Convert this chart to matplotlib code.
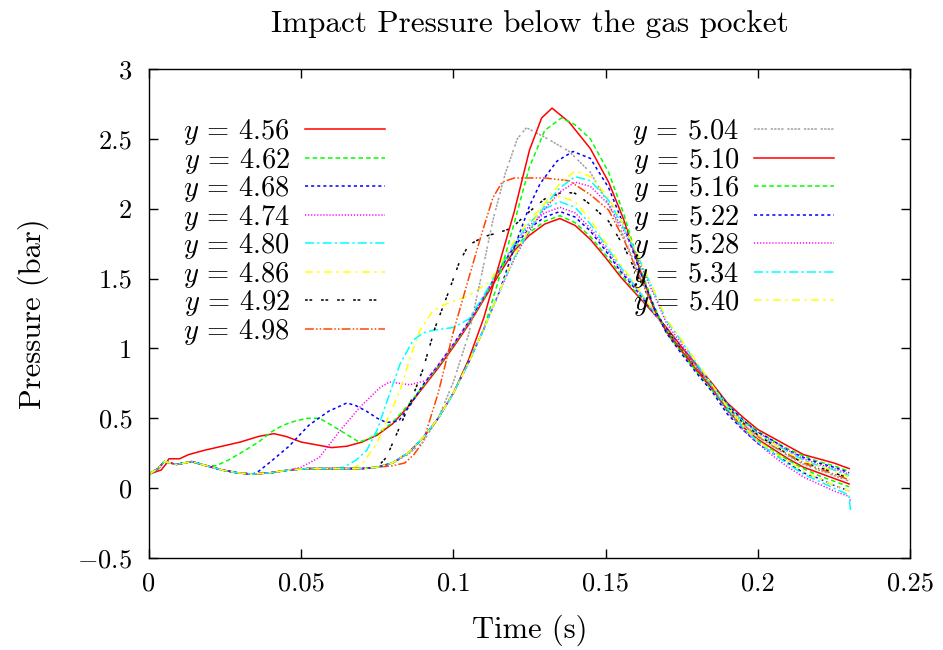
import matplotlib
matplotlib.use("Agg")
import matplotlib.pyplot as plt

plt.rcParams['font.family'] = ['cmr10', 'DejaVu Serif']
plt.rcParams['mathtext.fontset'] = 'cm'
plt.rcParams['axes.formatter.use_mathtext'] = True
plt.rcParams['axes.unicode_minus'] = False

# ---------------- data ----------------
labels = ["4.56", "4.62", "4.68", "4.74", "4.80", "4.86", "4.92", "4.98",
          "5.04", "5.10", "5.16", "5.22", "5.28", "5.34", "5.40"]

# common decay time grid
t_dec = [0.17, 0.175, 0.18, 0.185, 0.19, 0.195, 0.2, 0.205, 0.21, 0.215, 0.22, 0.225, 0.23]

t_456 = [0, 0.004, 0.0055, 0.0065, 0.01, 0.013, 0.018, 0.024, 0.03, 0.036, 0.041, 0.045, 0.05,
         0.055, 0.06, 0.065, 0.07, 0.075, 0.08, 0.085, 0.09, 0.095, 0.1, 0.105, 0.11, 0.115,
         0.12, 0.125, 0.13, 0.135, 0.14, 0.145, 0.15, 0.155, 0.16, 0.165]
p_456 = [0.10, 0.13, 0.17, 0.21, 0.21, 0.24, 0.27, 0.30, 0.33, 0.37, 0.39, 0.37, 0.33,
         0.31, 0.29, 0.30, 0.33, 0.38, 0.46, 0.58, 0.72, 0.86, 1.01, 1.17, 1.35, 1.53,
         1.70, 1.81, 1.89, 1.93, 1.88, 1.78, 1.65, 1.51, 1.39, 1.27]
d_456 = [1.15, 1.01, 0.88, 0.75, 0.61, 0.51, 0.42, 0.36, 0.30, 0.24, 0.21, 0.18, 0.14]

t_462 = [0, 0.003, 0.005, 0.009, 0.014, 0.019, 0.022, 0.026, 0.03, 0.036, 0.04, 0.044, 0.048,
         0.052, 0.056, 0.06, 0.063, 0.066, 0.069, 0.072, 0.075, 0.08, 0.085, 0.09, 0.095,
         0.1, 0.105, 0.11, 0.115, 0.12, 0.125, 0.13, 0.135, 0.14, 0.145, 0.15, 0.155, 0.16, 0.165]
p_462 = [0.10, 0.14, 0.19, 0.17, 0.19, 0.16, 0.16, 0.20, 0.25, 0.33, 0.40, 0.45, 0.48,
         0.50, 0.50, 0.45, 0.41, 0.37, 0.33, 0.35, 0.39, 0.47, 0.59, 0.73, 0.87,
         1.02, 1.18, 1.36, 1.55, 1.72, 1.83, 1.91, 1.95, 1.90, 1.80, 1.67, 1.53, 1.40, 1.28]
d_462 = [1.14, 1.00, 0.87, 0.74, 0.60, 0.49, 0.41, 0.34, 0.28, 0.23, 0.19, 0.16, 0.12]

t_468 = [0, 0.003, 0.005, 0.009, 0.014, 0.019, 0.024, 0.029, 0.034, 0.036, 0.04, 0.046, 0.0525,
         0.059, 0.065, 0.068, 0.0715, 0.075, 0.078, 0.082, 0.086, 0.09, 0.095, 0.1, 0.105,
         0.11, 0.115, 0.12, 0.125, 0.13, 0.135, 0.14, 0.145, 0.15, 0.155, 0.16, 0.165]
p_468 = [0.10, 0.14, 0.19, 0.17, 0.19, 0.16, 0.13, 0.11, 0.10, 0.12, 0.19, 0.30, 0.45,
         0.55, 0.61, 0.59, 0.55, 0.50, 0.47, 0.48, 0.60, 0.74, 0.88, 1.03, 1.19,
         1.37, 1.56, 1.73, 1.86, 1.94, 1.98, 1.94, 1.84, 1.70, 1.55, 1.42, 1.28]
d_468 = [1.14, 1.00, 0.86, 0.74, 0.60, 0.49, 0.40, 0.34, 0.27, 0.22, 0.18, 0.15, 0.11]

t_474 = [0, 0.003, 0.005, 0.009, 0.014, 0.019, 0.024, 0.029, 0.034, 0.04, 0.046, 0.05, 0.056,
         0.0627, 0.0693, 0.0759, 0.079, 0.0857, 0.091, 0.095, 0.1, 0.105, 0.11, 0.115, 0.12,
         0.125, 0.13, 0.135, 0.14, 0.145, 0.15, 0.155, 0.16, 0.165]
p_474 = [0.10, 0.14, 0.19, 0.17, 0.19, 0.16, 0.13, 0.11, 0.10, 0.11, 0.13, 0.15, 0.22,
         0.41, 0.58, 0.72, 0.76, 0.74, 0.77, 0.88, 1.03, 1.19, 1.37, 1.56, 1.74,
         1.88, 1.97, 2.01, 1.97, 1.86, 1.72, 1.56, 1.43, 1.28]
d_474 = [1.13, 1.00, 0.86, 0.73, 0.59, 0.48, 0.40, 0.33, 0.27, 0.21, 0.17, 0.14, 0.10]

t_480 = [0, 0.003, 0.005, 0.009, 0.014, 0.019, 0.024, 0.029, 0.034, 0.04, 0.046, 0.052, 0.06,
         0.064, 0.068, 0.0715, 0.075, 0.078, 0.0825, 0.0868, 0.09, 0.0933, 0.1, 0.105, 0.11,
         0.115, 0.12, 0.125, 0.13, 0.135, 0.14, 0.145, 0.15, 0.155, 0.16, 0.165]
p_480 = [0.10, 0.14, 0.19, 0.17, 0.19, 0.16, 0.13, 0.11, 0.10, 0.11, 0.13, 0.14, 0.14,
         0.15, 0.20, 0.27, 0.42, 0.61, 0.89, 1.06, 1.11, 1.13, 1.15, 1.21, 1.38,
         1.57, 1.75, 1.90, 2.00, 2.05, 2.01, 1.89, 1.74, 1.58, 1.44, 1.29]
d_480 = [1.13, 0.99, 0.86, 0.73, 0.59, 0.48, 0.39, 0.32, 0.26, 0.20, 0.16, 0.13, 0.09]

t_486 = [0, 0.003, 0.005, 0.009, 0.014, 0.019, 0.024, 0.029, 0.034, 0.04, 0.046, 0.052, 0.06,
         0.066, 0.07, 0.0748, 0.0785, 0.0825, 0.086, 0.089, 0.0933, 0.0978, 0.1044, 0.108,
         0.112, 0.115, 0.12, 0.125, 0.13, 0.135, 0.14, 0.145, 0.15, 0.155, 0.16, 0.165]
p_486 = [0.10, 0.14, 0.19, 0.17, 0.19, 0.16, 0.13, 0.11, 0.10, 0.11, 0.13, 0.14, 0.14,
         0.14, 0.17, 0.32, 0.50, 0.70, 0.95, 1.13, 1.27, 1.32, 1.37, 1.42,
         1.48, 1.59, 1.77, 1.92, 2.03, 2.09, 2.05, 1.92, 1.76, 1.60, 1.45, 1.29]
d_486 = [1.13, 0.99, 0.85, 0.73, 0.58, 0.47, 0.38, 0.32, 0.25, 0.19, 0.16, 0.12, 0.08]

t_492 = [0, 0.003, 0.005, 0.009, 0.014, 0.019, 0.024, 0.029, 0.034, 0.04, 0.046, 0.052, 0.06,
         0.07, 0.075, 0.078, 0.082, 0.086, 0.09, 0.094, 0.098, 0.102, 0.105, 0.11, 0.115,
         0.119, 0.125, 0.13, 0.136, 0.14, 0.145, 0.151, 0.156, 0.161, 0.166]
p_492 = [0.10, 0.14, 0.19, 0.17, 0.19, 0.16, 0.13, 0.11, 0.10, 0.11, 0.13, 0.14, 0.14,
         0.14, 0.15, 0.22, 0.42, 0.62, 0.85, 1.15, 1.38, 1.62, 1.74, 1.80, 1.83,
         1.86, 1.98, 2.07, 2.12, 2.11, 2.03, 1.91, 1.73, 1.50, 1.29]
d_492 = [1.13, 0.99, 0.85, 0.72, 0.58, 0.47, 0.38, 0.31, 0.24, 0.18, 0.15, 0.11, 0.07]

t_498 = [0, 0.003, 0.005, 0.009, 0.014, 0.019, 0.024, 0.029, 0.034, 0.04, 0.046, 0.052, 0.06,
         0.07, 0.08, 0.084, 0.087, 0.09, 0.095, 0.1, 0.105, 0.109, 0.113, 0.116, 0.12,
         0.125, 0.13, 0.134, 0.138, 0.145, 0.151, 0.156, 0.161, 0.166]
p_498 = [0.10, 0.14, 0.19, 0.17, 0.19, 0.16, 0.13, 0.11, 0.10, 0.11, 0.13, 0.14, 0.14,
         0.14, 0.16, 0.18, 0.24, 0.33, 0.68, 1.12, 1.50, 1.80, 2.08, 2.19, 2.22,
         2.22, 2.22, 2.21, 2.20, 2.10, 1.99, 1.78, 1.52, 1.28]
d_498 = [1.12, 0.99, 0.85, 0.72, 0.57, 0.46, 0.37, 0.30, 0.24, 0.18, 0.14, 0.10, 0.06]

t_504 = [0, 0.003, 0.005, 0.009, 0.014, 0.019, 0.024, 0.029, 0.034, 0.04, 0.046, 0.052, 0.06,
         0.07, 0.075, 0.08, 0.085, 0.09, 0.095, 0.1, 0.105, 0.109, 0.113, 0.117, 0.121,
         0.124, 0.131, 0.138, 0.145, 0.151, 0.156, 0.161, 0.166]
p_504 = [0.10, 0.14, 0.19, 0.17, 0.19, 0.16, 0.13, 0.11, 0.10, 0.11, 0.13, 0.14, 0.14,
         0.14, 0.15, 0.18, 0.24, 0.33, 0.50, 0.76, 1.10, 1.50, 1.92, 2.25, 2.50,
         2.58, 2.50, 2.41, 2.26, 2.03, 1.80, 1.53, 1.28]
d_504 = [1.12, 0.98, 0.84, 0.71, 0.57, 0.46, 0.37, 0.30, 0.23, 0.17, 0.13, 0.09, 0.05]

t_510 = [0, 0.003, 0.005, 0.009, 0.014, 0.019, 0.024, 0.029, 0.034, 0.04, 0.046, 0.052, 0.06,
         0.07, 0.075, 0.08, 0.085, 0.09, 0.095, 0.1, 0.105, 0.11, 0.115, 0.12, 0.125,
         0.129, 0.1324, 0.138, 0.145, 0.151, 0.156, 0.161, 0.166]
p_510 = [0.10, 0.14, 0.19, 0.17, 0.19, 0.16, 0.13, 0.11, 0.10, 0.11, 0.13, 0.14, 0.14,
         0.14, 0.15, 0.18, 0.25, 0.36, 0.50, 0.68, 0.92, 1.22, 1.60, 1.98, 2.42,
         2.65, 2.72, 2.62, 2.43, 2.19, 1.92, 1.58, 1.28]
d_510 = [1.12, 0.98, 0.84, 0.71, 0.56, 0.44, 0.35, 0.28, 0.21, 0.15, 0.11, 0.07, 0.03]

t_516 = [0, 0.003, 0.005, 0.009, 0.014, 0.019, 0.024, 0.029, 0.034, 0.04, 0.046, 0.052, 0.06,
         0.07, 0.075, 0.08, 0.085, 0.09, 0.095, 0.1, 0.105, 0.11, 0.1143, 0.12, 0.125,
         0.13, 0.1355, 0.14, 0.145, 0.151, 0.156, 0.161, 0.166]
p_516 = [0.10, 0.14, 0.19, 0.17, 0.19, 0.16, 0.13, 0.11, 0.10, 0.11, 0.13, 0.14, 0.14,
         0.14, 0.15, 0.18, 0.25, 0.36, 0.50, 0.68, 0.90, 1.14, 1.45, 1.90, 2.30,
         2.56, 2.65, 2.60, 2.50, 2.26, 1.96, 1.60, 1.30]
d_516 = [1.11, 0.97, 0.83, 0.70, 0.55, 0.43, 0.34, 0.27, 0.20, 0.14, 0.09, 0.05, 0.01]

t_522 = [0, 0.003, 0.005, 0.009, 0.014, 0.019, 0.024, 0.029, 0.034, 0.04, 0.046, 0.052, 0.06,
         0.07, 0.075, 0.08, 0.085, 0.09, 0.095, 0.1, 0.105, 0.11, 0.115, 0.12, 0.125,
         0.1285, 0.134, 0.1393, 0.145, 0.151, 0.156, 0.161, 0.166]
p_522 = [0.10, 0.14, 0.19, 0.17, 0.19, 0.16, 0.13, 0.11, 0.10, 0.11, 0.13, 0.14, 0.14,
         0.14, 0.15, 0.18, 0.25, 0.36, 0.50, 0.68, 0.90, 1.14, 1.40, 1.72, 2.02,
         2.18, 2.34, 2.41, 2.36, 2.15, 1.88, 1.57, 1.29]
d_522 = [1.11, 0.96, 0.82, 0.69, 0.53, 0.42, 0.32, 0.25, 0.18, 0.11, 0.07, 0.02, -0.02]

t_late = [0, 0.003, 0.005, 0.009, 0.014, 0.019, 0.024, 0.029, 0.034, 0.04, 0.046, 0.052, 0.06,
          0.07, 0.075, 0.08, 0.085, 0.09, 0.095, 0.1, 0.105, 0.11, 0.115, 0.12, 0.125,
          0.13, 0.135, 0.14, 0.145, 0.151, 0.156, 0.161, 0.166]
p_528 = [0.10, 0.14, 0.19, 0.17, 0.19, 0.16, 0.13, 0.11, 0.10, 0.11, 0.13, 0.14, 0.14,
         0.14, 0.15, 0.18, 0.25, 0.36, 0.50, 0.68, 0.90, 1.14, 1.40, 1.64, 1.84,
         2.00, 2.12, 2.19, 2.16, 2.03, 1.84, 1.62, 1.38]
d_528 = [1.18, 1.03, 0.87, 0.72, 0.55, 0.42, 0.32, 0.23, 0.15, 0.08, 0.03, -0.02, -0.06]
p_534 = [0.10, 0.14, 0.19, 0.17, 0.19, 0.16, 0.13, 0.11, 0.10, 0.11, 0.13, 0.14, 0.14,
         0.14, 0.15, 0.18, 0.25, 0.36, 0.50, 0.68, 0.90, 1.14, 1.40, 1.65, 1.85,
         2.02, 2.15, 2.23, 2.20, 2.06, 1.86, 1.64, 1.40]
d_534 = [1.20, 1.05, 0.89, 0.73, 0.57, 0.44, 0.33, 0.25, 0.17, 0.10, 0.05, 0.00, -0.05]
p_540 = [0.10, 0.14, 0.19, 0.17, 0.19, 0.16, 0.13, 0.11, 0.10, 0.11, 0.13, 0.14, 0.14,
         0.14, 0.15, 0.18, 0.25, 0.36, 0.50, 0.68, 0.90, 1.14, 1.40, 1.66, 1.86,
         2.04, 2.18, 2.27, 2.23, 2.08, 1.88, 1.65, 1.41]
d_540 = [1.21, 1.06, 0.90, 0.74, 0.58, 0.45, 0.34, 0.26, 0.19, 0.12, 0.07, 0.02, -0.02]

# final samples (end of record)
t_end = [0.2305]
end_528 = [-0.10]
end_534 = [-0.18]

xticks = [0, 0.05, 0.1, 0.15, 0.2, 0.25]
xtick_labels = ["0", "0.05", "0.1", "0.15", "0.2", "0.25"]
yticks = [-0.5, 0, 0.5, 1, 1.5, 2, 2.5, 3]
ytick_labels = ["$-0.5$", "0", "0.5", "1", "1.5", "2", "2.5", "3"]

# ---------------- styling ----------------
colors = ["#ff0000", "#00ff00", "#0000ff", "#ff00ff", "#00ffff", "#ffff00", "#000000",
          "#ff4500", "#a0a0a0", "#ff0000", "#00ff00", "#0000ff", "#ff00ff", "#00ffff",
          "#ffff00"]
dashes = [None, (3, 2), (2, 2), (0.8, 1.2), (6, 2, 1.5, 2), (5, 3, 1.5, 3),
          (1.8, 1.1, 1.8, 5.8), (5.8, 1.4, 1, 1.4, 1, 1.4),
          (1.5, 0.8, 1.5, 0.8, 1.5, 0.8, 1.5, 2.5),
          None, (3, 2), (2, 2), (0.8, 1.2), (6, 2, 1.5, 2), (5, 3, 1.5, 3)]

series = [
    (t_456 + t_dec, p_456 + d_456),
    (t_462 + t_dec, p_462 + d_462),
    (t_468 + t_dec, p_468 + d_468),
    (t_474 + t_dec, p_474 + d_474),
    (t_480 + t_dec, p_480 + d_480),
    (t_486 + t_dec, p_486 + d_486),
    (t_492 + t_dec, p_492 + d_492),
    (t_498 + t_dec, p_498 + d_498),
    (t_504 + t_dec, p_504 + d_504),
    (t_510 + t_dec, p_510 + d_510),
    (t_516 + t_dec, p_516 + d_516),
    (t_522 + t_dec, p_522 + d_522),
    (t_late + t_dec + t_end, p_528 + d_528 + end_528),
    (t_late + t_dec + t_end, p_534 + d_534 + end_534),
    (t_late + t_dec, p_540 + d_540),
]

fs_title = 22.5
fs_label = 22
fs_tick = 19
fs_leg = 20.5

fig = plt.figure(figsize=(9.43, 6.5), dpi=100)
ax = fig.add_axes([149 / 943, 92 / 650, 761 / 943, 489 / 650])

for (t, p), lab, c, d in zip(series, labels, colors, dashes):
    line, = ax.plot(t, p, color=c, lw=1.1, label=r"$y$ = " + lab)
    if d is not None:
        line.set_dashes(d)

ax.set_xlim(0, 0.25)
ax.set_ylim(-0.5, 3)
ax.set_xticks(xticks)
ax.set_xticklabels(xtick_labels)
ax.set_yticks(yticks)
ax.set_yticklabels(ytick_labels)
ax.tick_params(direction="in", length=6.5, width=1.0, top=True, right=True,
               labelsize=fs_tick)
ax.tick_params(axis="x", pad=10)
ax.tick_params(axis="y", pad=12)
for s in ax.spines.values():
    s.set_linewidth(1.0)

ax.set_xlabel("Time (s)", fontsize=fs_label)
ax.xaxis.set_label_coords(0.5, -(630 - 558) / 489)
ax.xaxis.label.set_va("center")
ax.set_ylabel("Pressure (bar)", fontsize=fs_label)
ax.yaxis.set_label_coords(-(149 - 33) / 761, 0.5)
ax.yaxis.label.set_va("center")

fig.text(529.5 / 943, 1 - 24 / 650, "Impact Pressure below the gas pocket",
         ha="center", va="center", fontsize=fs_title)

leg = ax.legend(ncol=2, markerfirst=False, frameon=False, fontsize=fs_leg,
                loc="upper left", bbox_to_anchor=((183 - 149) / 761, (558 - 117) / 489),
                handlelength=2.8, handletextpad=0.53, columnspacing=8.7,
                labelspacing=-0.05, borderaxespad=0.0, borderpad=0.0)

fig.savefig("out.png", dpi=100)
